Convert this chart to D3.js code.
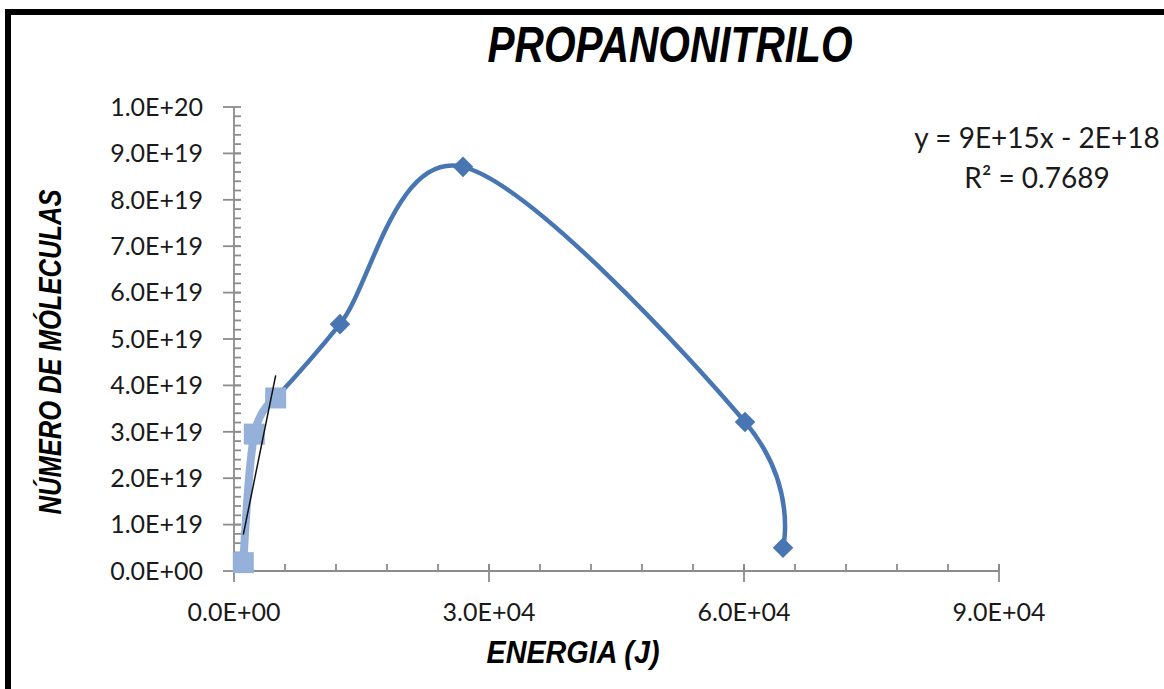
<!DOCTYPE html>
<html>
<head>
<meta charset="utf-8">
<script src="https://cdn.jsdelivr.net/npm/d3@7"></script>
<style>
  html, body { margin: 0; padding: 0; background: #ffffff; }
  svg { display: block; }
</style>
</head>
<body>
<svg id="chart" width="1164" height="689"></svg>
<script>
// Energy (J) vs number of molecules, propanonitrile
const seriesMainX = [4906, 12470, 26940, 60120, 64590];
const seriesMainY = [3.73e19, 5.32e19, 8.71e19, 3.21e19, 0.50e19];

const seriesLowX = [1094, 2388, 4906];
const seriesLowY = [1.8e18, 2.95e19, 3.73e19];

// Linear trendline fitted to the low-energy series
const trendSlope = 9e15;
const trendIntercept = -2e18;
const trendLabels = ["y = 9E+15x - 2E+18", "R² = 0.7689"];

const xTickValues = [0, 30000, 60000, 90000];
const xTickLabels = ["0.0E+00", "3.0E+04", "6.0E+04", "9.0E+04"];
const yTickValues = [0, 1e19, 2e19, 3e19, 4e19, 5e19, 6e19, 7e19, 8e19, 9e19, 1e20];
const yTickLabels = ["0.0E+00", "1.0E+19", "2.0E+19", "3.0E+19", "4.0E+19", "5.0E+19",
                     "6.0E+19", "7.0E+19", "8.0E+19", "9.0E+19", "1.0E+20"];

const chartTitle = "PROPANONITRILO";
const xTitle = "ENERGIA (J)";
const yTitle = "NÚMERO DE MÓLECULAS";

const svg = d3.select("#chart");
const W = 1164, H = 689;

const x = d3.scaleLinear().domain([0, 90000]).range([234, 999]);
const y = d3.scaleLinear().domain([0, 1e20]).range([571, 107]);

const axisColor = "#8c8c8c";
const tickFont = "Lato, 'Open Sans', sans-serif";
const handFont = "'Liberation Sans Narrow', 'Liberation Sans', sans-serif";

svg.append("rect").attr("width", W).attr("height", H).attr("fill", "#fff");

// chart frame (only top and left edges fall inside the view)
svg.append("rect")
  .attr("x", 8).attr("y", 12)
  .attr("width", W + 20).attr("height", H + 20)
  .attr("fill", "none").attr("stroke", "#000").attr("stroke-width", 6);

// ---- axes ----
const axes = svg.append("g").attr("stroke", axisColor).attr("stroke-width", 1.8);

const yMinor = d3.range(0, 1e20 + 1, 2e18);
const xMinor = d3.range(0, 90000 + 1, 6000);

// y axis line and ticks
axes.append("line")
  .attr("x1", x(0)).attr("x2", x(0))
  .attr("y1", y(0)).attr("y2", y(1e20));
axes.selectAll("line.yminor").data(yMinor).join("line")
  .attr("class", "yminor")
  .attr("x1", x(0)).attr("x2", x(0) + 7)
  .attr("y1", d => y(d)).attr("y2", d => y(d));
axes.selectAll("line.ymajor").data(yTickValues).join("line")
  .attr("class", "ymajor")
  .attr("x1", x(0) - 11).attr("x2", x(0) + 7)
  .attr("y1", d => y(d)).attr("y2", d => y(d));

// x axis line and ticks
axes.append("line")
  .attr("x1", x(0)).attr("x2", x(90000))
  .attr("y1", y(0)).attr("y2", y(0));
axes.selectAll("line.xminor").data(xMinor).join("line")
  .attr("class", "xminor")
  .attr("x1", d => x(d)).attr("x2", d => x(d))
  .attr("y1", y(0) - 7).attr("y2", y(0));
axes.selectAll("line.xmajor").data(xTickValues).join("line")
  .attr("class", "xmajor")
  .attr("x1", d => x(d)).attr("x2", d => x(d))
  .attr("y1", y(0) - 7).attr("y2", y(0) + 11);

// tick labels
svg.append("g").selectAll("text").data(yTickValues).join("text")
  .attr("x", 203).attr("y", d => y(d))
  .attr("dy", "0.35em")
  .attr("text-anchor", "end")
  .attr("font-family", tickFont).attr("font-size", 25).attr("fill", "#1a1a1a")
  .text((d, i) => yTickLabels[i]);

svg.append("g").selectAll("text").data(xTickValues).join("text")
  .attr("x", d => x(d)).attr("y", 621)
  .attr("text-anchor", "middle")
  .attr("font-family", tickFont).attr("font-size", 25).attr("fill", "#1a1a1a")
  .text((d, i) => xTickLabels[i]);

// ---- series ----
const mainPts = seriesMainX.map((v, i) => [v, seriesMainY[i]]);
const lowPts = seriesLowX.map((v, i) => [v, seriesLowY[i]]);

const smooth = d3.line()
  .x(d => x(d[0])).y(d => y(d[1]))
  .curve(d3.curveCardinal.tension(0));

const mainColor = "#4876b3";
const lowColor = "#95b1da";

svg.append("path")
  .attr("d", smooth(mainPts))
  .attr("fill", "none").attr("stroke", mainColor)
  .attr("stroke-width", 4.5).attr("stroke-linecap", "round");

svg.append("g").selectAll("path").data(mainPts).join("path")
  .attr("d", d3.symbol().type(d3.symbolDiamond2).size(270)())
  .attr("transform", d => `translate(${x(d[0])},${y(d[1])})`)
  .attr("fill", mainColor);

svg.append("path")
  .attr("d", smooth(lowPts))
  .attr("fill", "none").attr("stroke", lowColor)
  .attr("stroke-width", 8).attr("stroke-linecap", "round");

svg.append("g").selectAll("rect").data(lowPts).join("rect")
  .attr("x", d => x(d[0]) - 10.5).attr("y", d => y(d[1]) - 10.5)
  .attr("width", 21).attr("height", 21)
  .attr("fill", lowColor);

// trendline across the low-energy series
const trendX = d3.extent(seriesLowX);
svg.append("line")
  .attr("x1", x(trendX[0])).attr("y1", y(trendSlope * trendX[0] + trendIntercept))
  .attr("x2", x(trendX[1])).attr("y2", y(trendSlope * trendX[1] + trendIntercept))
  .attr("stroke", "#111").attr("stroke-width", 1.5);

// trendline equation
svg.append("g").selectAll("text").data(trendLabels).join("text")
  .attr("x", 1037).attr("y", (d, i) => 148 + i * 40)
  .attr("text-anchor", "middle")
  .attr("font-family", tickFont).attr("font-size", 28).attr("fill", "#1a1a1a")
  .text(d => d);

// ---- titles ----
svg.append("text")
  .attr("x", 670).attr("y", 62)
  .attr("text-anchor", "middle")
  .attr("font-family", handFont).attr("font-size", 50)
  .attr("font-weight", "bold").attr("font-style", "italic")
  .attr("textLength", 365).attr("lengthAdjust", "spacingAndGlyphs")
  .text(chartTitle);

svg.append("text")
  .attr("transform", "translate(61,352) rotate(-90)")
  .attr("text-anchor", "middle")
  .attr("font-family", handFont).attr("font-size", 31)
  .attr("font-weight", "bold").attr("font-style", "italic")
  .attr("textLength", 325).attr("lengthAdjust", "spacingAndGlyphs")
  .text(yTitle);

svg.append("text")
  .attr("x", 573).attr("y", 663)
  .attr("text-anchor", "middle")
  .attr("font-family", handFont).attr("font-size", 31)
  .attr("font-weight", "bold").attr("font-style", "italic")
  .attr("textLength", 173).attr("lengthAdjust", "spacingAndGlyphs")
  .text(xTitle);
</script>
</body>
</html>
